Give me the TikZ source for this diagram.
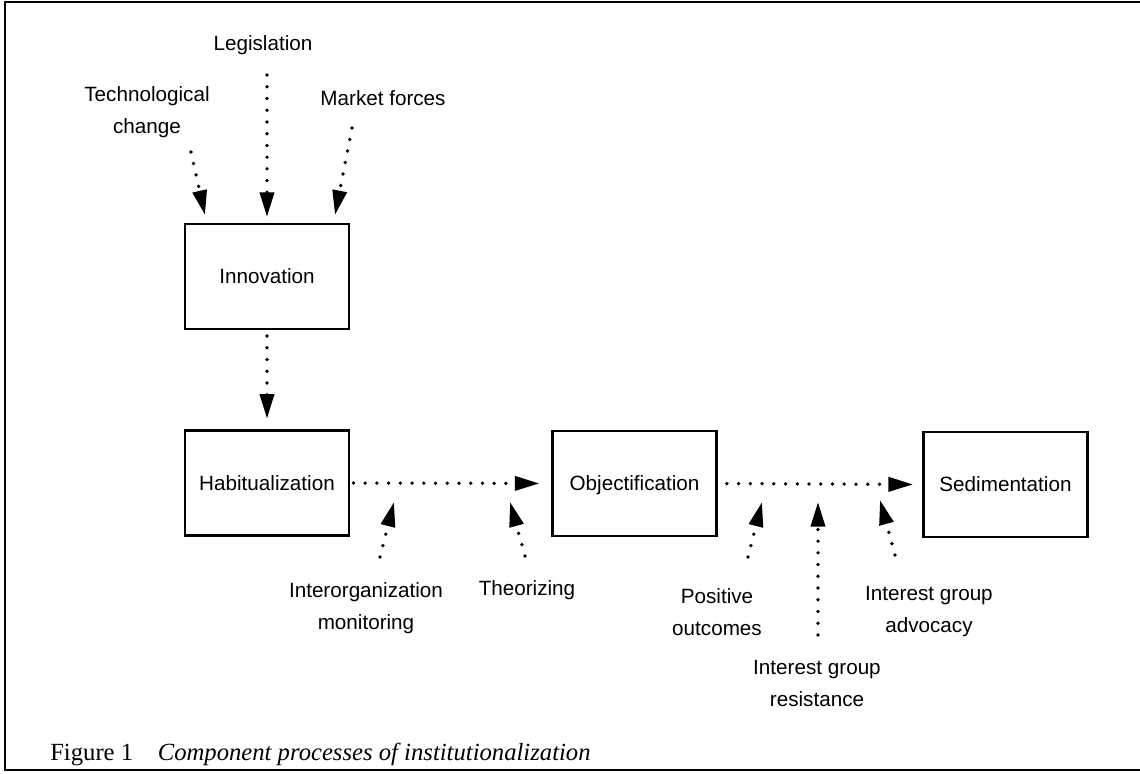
\documentclass[tikz,border=0pt]{standalone}
\usepackage{fontspec}
\setmainfont{Liberation Serif}
\setsansfont{Liberation Sans}
\usetikzlibrary{arrows.meta}
\begin{document}
\begin{tikzpicture}[x=0.75pt,y=-0.75pt,
  box/.style={draw,line width=1.6pt,minimum width=123pt,minimum height=78.75pt,inner sep=0pt,
    font=\sffamily\fontsize{15.5}{24}\selectfont,text height=11pt,text depth=0pt},
  lbl/.style={font=\sffamily\fontsize{15.5}{24}\selectfont,align=center,inner sep=0pt},
  darr/.style={line width=2.8pt,line cap=round,dash pattern=on 0pt off 8.8pt,
    -{Triangle[length=18.5pt,width=10.5pt]}},
]
\useasboundingbox (0,0) rectangle (1140,774);
% frame
\draw[line width=2pt] (1141,2) -- (5,2) -- (5,770) -- (1141,770);

% boxes
\node[box] (inn) at (267,276.5) {Innovation};
\node[box] (hab) at (267,483) {Habitualization};
\node[box] (obj) at (634.5,483.5) {Objectification};
\node[box] (sed) at (1005.5,484.5) {Sedimentation};

% labels
\node[lbl] (leg) at (263,45) {Legislation};
\node[lbl] (tech) at (147,112.5) {Technological\\change};
\node[lbl] (mkt) at (383,98) {Market forces};
\node[lbl] (mon) at (366,608) {Interorganization\\monitoring};
\node[lbl] (theo) at (527,590) {Theorizing};
\node[lbl] (pos) at (717,612) {Positive\\outcomes};
\node[lbl] (adv) at (929,611.5) {Interest group\\advocacy};
\node[lbl] (res) at (817,683.5) {Interest group\\resistance};

% arrow end points
\coordinate (techS) at (191,152);  \coordinate (techE) at (205,215);
\coordinate (legS) at (267,75);    \coordinate (legE) at (267,217);
\coordinate (mktS) at (352,128);   \coordinate (mktE) at (335,215);
\coordinate (monS) at (380,557);   \coordinate (monE) at (394,502);
\coordinate (theoS) at (525,556);  \coordinate (theoE) at (510,502);
\coordinate (posS) at (748,557);   \coordinate (posE) at (762,502);
\coordinate (resS) at (818,635);   \coordinate (resE) at (818,502);
\coordinate (advS) at (895,555);   \coordinate (advE) at (880,500);

\draw[darr] (techS) -- (techE);
\draw[darr] (legS) -- (legE);
\draw[darr] (mktS) -- (mktE);
\draw[darr, shorten <=4.5pt, shorten >=8pt] (inn.south) -- (hab.north);
\draw[darr, shorten <=2.5pt, shorten >=9pt] (hab.east) -- (obj.west);
\draw[darr, shorten <=7pt, shorten >=7pt] (obj.east) -- (sed.west);
\draw[darr] (monS) -- (monE);
\draw[darr] (theoS) -- (theoE);
\draw[darr] (posS) -- (posE);
\draw[darr] (resS) -- (resE);
\draw[darr] (advS) -- (advE);

% caption
\node[anchor=base west,inner sep=0pt,font=\fontsize{18.5}{22}\selectfont] (cap) at (50,760)
  {Figure 1\quad\textit{Component processes of institutionalization}};
\end{tikzpicture}
\end{document}
